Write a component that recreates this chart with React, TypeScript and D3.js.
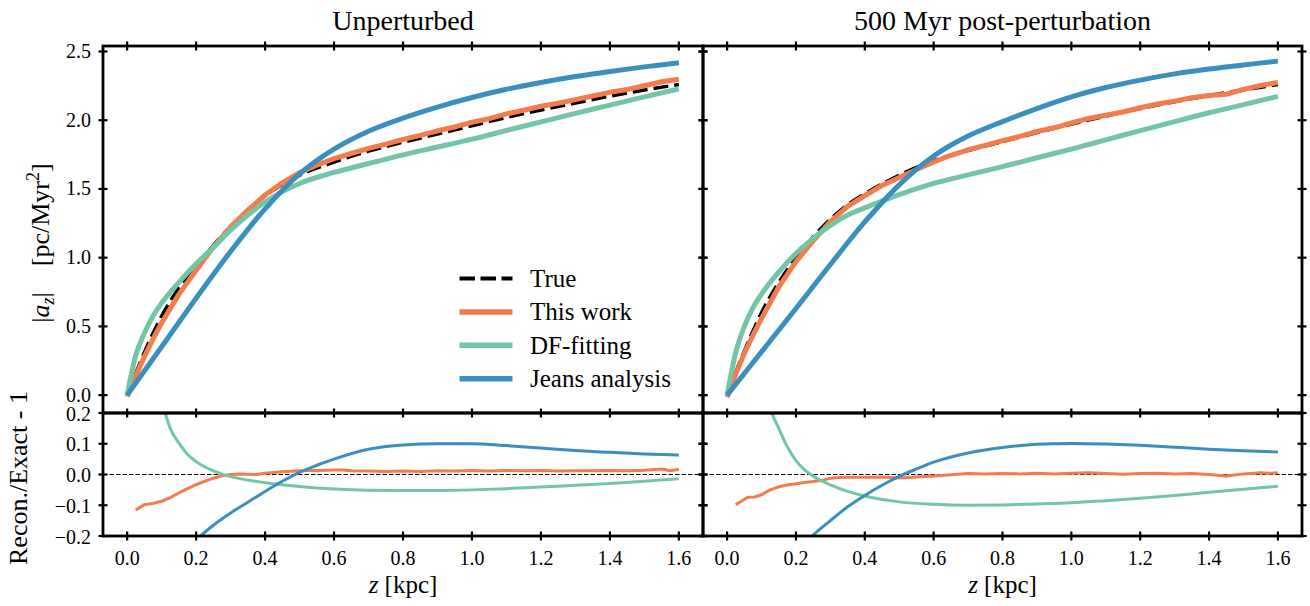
import React from 'react';
import * as d3 from 'd3';

const W = 1310;
const H = 606;
const FONT = '"Liberation Serif", "Times New Roman", serif';

const C_TRUE = '#000000';
const C_WORK = '#f47b4b';
const C_DF = '#72c6a5';
const C_JEANS = '#3b8fc0';

// Height above the midplane, kpc
const zSmooth = [0, 0.025, 0.05, 0.075, 0.1, 0.15, 0.2, 0.25, 0.3, 0.35, 0.4, 0.5, 0.6, 0.7, 0.8, 0.9, 1.0, 1.1, 1.2, 1.3, 1.4, 1.5, 1.6];
const zJeans = [0, 0.1, 0.2, 0.3, 0.4, 0.5, 0.6, 0.7, 0.8, 0.9, 1.0, 1.1, 1.2, 1.3, 1.4, 1.5, 1.6];
const zWork = [0, 0.025, 0.05, 0.075, 0.1, 0.15, 0.2, 0.25, 0.3, 0.35, 0.4, 0.45, 0.5, 0.55, 0.6, 0.65, 0.7, 0.75, 0.8, 0.85, 0.9, 0.95, 1.0, 1.05, 1.1, 1.15, 1.2, 1.25, 1.3, 1.35, 1.4, 1.45, 1.5, 1.55, 1.6];

// |a_z| [pc/Myr^2], unperturbed snapshot
const trueUnpert = [0, 0.16, 0.31, 0.45, 0.575, 0.78, 0.94, 1.09, 1.225, 1.345, 1.45, 1.6, 1.695, 1.775, 1.84, 1.9, 1.96, 2.02, 2.075, 2.125, 2.175, 2.22, 2.26];
const dfUnpert = [0, 0.29, 0.45, 0.575, 0.67, 0.82, 0.955, 1.075, 1.2, 1.31, 1.405, 1.54, 1.62, 1.685, 1.748, 1.805, 1.862, 1.925, 1.988, 2.05, 2.11, 2.17, 2.228];
const jeansUnpert = [0, 0.352, 0.705, 1.045, 1.355, 1.61, 1.79, 1.92, 2.015, 2.095, 2.165, 2.225, 2.275, 2.318, 2.355, 2.388, 2.418];
const workUnpert = [-0.01, 0.142, 0.28, 0.408, 0.525, 0.733, 0.909, 1.077, 1.225, 1.346, 1.456, 1.544, 1.619, 1.673, 1.72, 1.758, 1.795, 1.826, 1.86, 1.89, 1.923, 1.951, 1.985, 2.012, 2.046, 2.073, 2.102, 2.123, 2.15, 2.176, 2.203, 2.224, 2.251, 2.28, 2.298];

// |a_z| [pc/Myr^2], 500 Myr after the perturbation
const truePert = [0, 0.165, 0.32, 0.465, 0.6, 0.82, 1.0, 1.15, 1.28, 1.385, 1.465, 1.6, 1.705, 1.78, 1.845, 1.91, 1.972, 2.03, 2.085, 2.135, 2.18, 2.22, 2.26];
const dfPert = [0, 0.31, 0.5, 0.635, 0.735, 0.895, 1.03, 1.14, 1.235, 1.31, 1.362, 1.458, 1.54, 1.602, 1.662, 1.727, 1.79, 1.857, 1.924, 1.99, 2.054, 2.113, 2.174];
const jeansPert = [0, 0.315, 0.63, 0.95, 1.26, 1.53, 1.74, 1.885, 1.99, 2.085, 2.17, 2.238, 2.292, 2.337, 2.372, 2.402, 2.43];
const workPert = [-0.015, 0.153, 0.304, 0.436, 0.558, 0.787, 0.971, 1.122, 1.263, 1.373, 1.452, 1.525, 1.584, 1.642, 1.696, 1.745, 1.785, 1.817, 1.851, 1.882, 1.918, 1.945, 1.98, 2.013, 2.036, 2.06, 2.091, 2.118, 2.139, 2.164, 2.18, 2.189, 2.224, 2.253, 2.274];

// Relative error: reconstructed / exact - 1
const zResWorkUnpert = [0.025, 0.05, 0.075, 0.1, 0.125, 0.15, 0.175, 0.2, 0.225, 0.25, 0.275, 0.3, 0.325, 0.35, 0.375, 0.4, 0.45, 0.5, 0.55, 0.6, 0.625, 0.65, 0.7, 0.75, 0.8, 0.85, 0.9, 0.95, 1.0, 1.05, 1.1, 1.15, 1.2, 1.25, 1.3, 1.35, 1.4, 1.45, 1.5, 1.55, 1.575, 1.6];
const resWorkUnpert = [-0.115, -0.098, -0.094, -0.087, -0.075, -0.06, -0.046, -0.033, -0.022, -0.012, -0.004, 0.0, 0.002, 0.001, 0.0, 0.004, 0.009, 0.012, 0.013, 0.015, 0.015, 0.012, 0.011, 0.01, 0.011, 0.01, 0.012, 0.011, 0.013, 0.011, 0.013, 0.012, 0.013, 0.011, 0.012, 0.012, 0.013, 0.012, 0.014, 0.018, 0.012, 0.017];
const zResDfUnpert = [0.05, 0.075, 0.1, 0.125, 0.15, 0.175, 0.2, 0.25, 0.3, 0.35, 0.4, 0.5, 0.6, 0.7, 0.8, 0.9, 1.0, 1.1, 1.2, 1.3, 1.4, 1.5, 1.6];
const resDfUnpert = [0.6, 0.38, 0.245, 0.15, 0.103, 0.066, 0.042, 0.012, -0.007, -0.018, -0.027, -0.039, -0.047, -0.051, -0.052, -0.052, -0.05, -0.046, -0.041, -0.035, -0.029, -0.022, -0.014];
const zResJeansUnpert = [0.1, 0.15, 0.2, 0.25, 0.3, 0.35, 0.4, 0.45, 0.5, 0.55, 0.6, 0.7, 0.8, 0.9, 1.0, 1.1, 1.2, 1.3, 1.4, 1.5, 1.6];
const resJeansUnpert = [-0.38, -0.29, -0.215, -0.165, -0.125, -0.09, -0.055, -0.022, 0.007, 0.03, 0.05, 0.082, 0.096, 0.1, 0.1, 0.094, 0.086, 0.078, 0.072, 0.067, 0.063];

const zResWorkPert = [0.025, 0.04, 0.06, 0.08, 0.1, 0.125, 0.15, 0.175, 0.2, 0.225, 0.25, 0.275, 0.3, 0.325, 0.35, 0.4, 0.45, 0.5, 0.55, 0.6, 0.65, 0.7, 0.75, 0.8, 0.85, 0.9, 0.95, 1.0, 1.05, 1.1, 1.15, 1.2, 1.25, 1.3, 1.35, 1.4, 1.45, 1.5, 1.55, 1.575, 1.6];
const resWorkPert = [-0.098, -0.088, -0.074, -0.073, -0.066, -0.05, -0.04, -0.034, -0.03, -0.026, -0.023, -0.019, -0.012, -0.01, -0.009, -0.009, -0.008, -0.011, -0.008, -0.005, -0.001, 0.003, 0.002, 0.003, 0.002, 0.004, 0.002, 0.004, 0.006, 0.003, 0.001, 0.003, 0.004, 0.002, 0.003, 0.0, -0.005, 0.002, 0.006, 0.004, 0.006];
const zResDfPert = [0.05, 0.075, 0.1, 0.13, 0.15, 0.175, 0.2, 0.225, 0.25, 0.3, 0.35, 0.4, 0.5, 0.6, 0.7, 0.8, 0.9, 1.0, 1.1, 1.2, 1.3, 1.4, 1.5, 1.6];
const resDfPert = [0.9, 0.5, 0.31, 0.2, 0.15, 0.09, 0.045, 0.015, -0.005, -0.034, -0.055, -0.07, -0.089, -0.097, -0.1, -0.099, -0.096, -0.092, -0.085, -0.077, -0.068, -0.058, -0.048, -0.038];
const zResJeansPert = [0.15, 0.2, 0.25, 0.3, 0.35, 0.4, 0.45, 0.5, 0.55, 0.6, 0.7, 0.8, 0.9, 1.0, 1.1, 1.2, 1.3, 1.4, 1.5, 1.6];
const resJeansPert = [-0.34, -0.26, -0.197, -0.15, -0.105, -0.068, -0.035, -0.006, 0.018, 0.04, 0.07, 0.088, 0.098, 0.101, 0.099, 0.095, 0.089, 0.082, 0.077, 0.073];

// Axis ticks
const xTicks = [0, 0.2, 0.4, 0.6, 0.8, 1.0, 1.2, 1.4, 1.6];
const xTickLabels = ['0.0', '0.2', '0.4', '0.6', '0.8', '1.0', '1.2', '1.4', '1.6'];
const yTopTicks = [0, 0.5, 1.0, 1.5, 2.0, 2.5];
const yTopTickLabels = ['0.0', '0.5', '1.0', '1.5', '2.0', '2.5'];
const yBotTicks = [-0.2, -0.1, 0, 0.1, 0.2];
const yBotTickLabels = ['\u22120.2', '\u22120.1', '0.0', '0.1', '0.2'];

const legendLabels = ['True', 'This work', 'DF-fitting', 'Jeans analysis'];

const TOP = 46;
const MID = 413;
const BOT = 536;

const yTop = d3.scaleLinear().domain([-0.13, 2.54]).range([MID, TOP]);
const yBot = d3.scaleLinear().domain([-0.2, 0.2]).range([BOT, MID]);

type Pt = [number, number];
const zip = (zs: number[], vs: number[]): Pt[] => zs.map((z, i) => [z, vs[i]] as Pt);

const panels = [
  {
    key: 'u',
    title: 'Unperturbed',
    left: 103,
    right: 703,
    truth: zip(zSmooth, trueUnpert),
    work: zip(zWork, workUnpert),
    df: zip(zSmooth, dfUnpert),
    jeans: zip(zJeans, jeansUnpert),
    rWork: zip(zResWorkUnpert, resWorkUnpert),
    rDf: zip(zResDfUnpert, resDfUnpert),
    rJeans: zip(zResJeansUnpert, resJeansUnpert),
    yLabels: true,
    legend: true,
  },
  {
    key: 'p',
    title: '500 Myr post-perturbation',
    left: 703,
    right: 1302,
    truth: zip(zSmooth, truePert),
    work: zip(zWork, workPert),
    df: zip(zSmooth, dfPert),
    jeans: zip(zJeans, jeansPert),
    rWork: zip(zResWorkPert, resWorkPert),
    rDf: zip(zResDfPert, resDfPert),
    rJeans: zip(zResJeansPert, resJeansPert),
    yLabels: false,
    legend: false,
  },
];

const TICK = 4.5;
const TICK_W = 2.2;
const SPINE_W = 2.8;

export default function App() {
  return (
    <svg
      width={W}
      height={H}
      viewBox={`0 0 ${W} ${H}`}
      style={{ position: 'absolute', left: 0, top: 0, background: '#fff' }}
      fontFamily={FONT}
    >
      <rect x={0} y={0} width={W} height={H} fill="#fff" />
      {panels.map((p) => {
        const x = d3.scaleLinear().domain([-0.07, 1.67]).range([p.left, p.right]);
        const lineTop = (curve: d3.CurveFactory) =>
          d3.line<Pt>().x((d) => x(d[0])).y((d) => yTop(d[1])).curve(curve);
        const lineBot = (curve: d3.CurveFactory) =>
          d3.line<Pt>().x((d) => x(d[0])).y((d) => yBot(d[1])).curve(curve);
        const smooth = d3.curveMonotoneX;
        const cx = (p.left + p.right) / 2;
        return (
          <g key={p.key}>
            <defs>
              <clipPath id={`clip-top-${p.key}`}>
                <rect x={p.left} y={TOP} width={p.right - p.left} height={MID - TOP} />
              </clipPath>
              <clipPath id={`clip-bot-${p.key}`}>
                <rect x={p.left} y={MID} width={p.right - p.left} height={BOT - MID} />
              </clipPath>
            </defs>

            <text x={cx} y={30} textAnchor="middle" fontSize={28} fill="#000">
              {p.title}
            </text>

            {/* acceleration profiles */}
            <g clipPath={`url(#clip-top-${p.key})`} fill="none">
              <path d={lineTop(smooth)(p.truth) ?? ''} stroke={C_TRUE} strokeWidth={3.5} strokeDasharray="15 6" />
              <path d={lineTop(d3.curveLinear)(p.work) ?? ''} stroke={C_WORK} strokeWidth={5} strokeLinejoin="round" />
              <path d={lineTop(smooth)(p.df) ?? ''} stroke={C_DF} strokeWidth={5} />
              <path d={lineTop(d3.curveCatmullRom.alpha(0.5))(p.jeans) ?? ''} stroke={C_JEANS} strokeWidth={5} />
            </g>

            {/* relative errors */}
            <g clipPath={`url(#clip-bot-${p.key})`} fill="none">
              <line x1={p.left} x2={p.right} y1={yBot(0)} y2={yBot(0)} stroke="#000" strokeWidth={1.2} strokeDasharray="4.5 2" />
              <path d={lineBot(d3.curveLinear)(p.rWork) ?? ''} stroke={C_WORK} strokeWidth={3} strokeLinejoin="round" />
              <path d={lineBot(smooth)(p.rDf) ?? ''} stroke={C_DF} strokeWidth={3} />
              <path d={lineBot(smooth)(p.rJeans) ?? ''} stroke={C_JEANS} strokeWidth={3} />
            </g>

            {/* frames */}
            <rect x={p.left} y={TOP} width={p.right - p.left} height={MID - TOP} fill="none" stroke="#000" strokeWidth={SPINE_W} />
            <rect x={p.left} y={MID} width={p.right - p.left} height={BOT - MID} fill="none" stroke="#000" strokeWidth={SPINE_W} />

            {/* x ticks on every horizontal spine */}
            {[TOP, MID, BOT].map((yy) =>
              xTicks.map((t) => (
                <line key={`xt-${yy}-${t}`} x1={x(t)} x2={x(t)} y1={yy - TICK} y2={yy + TICK} stroke="#000" strokeWidth={TICK_W} />
              ))
            )}
            {/* y ticks, both sides */}
            {[p.left, p.right].map((xx) => (
              <g key={`yt-${xx}`}>
                {yTopTicks.map((t) => (
                  <line key={`a${t}`} x1={xx - TICK} x2={xx + TICK} y1={yTop(t)} y2={yTop(t)} stroke="#000" strokeWidth={TICK_W} />
                ))}
                {yBotTicks.map((t) => (
                  <line key={`b${t}`} x1={xx - TICK} x2={xx + TICK} y1={yBot(t)} y2={yBot(t)} stroke="#000" strokeWidth={TICK_W} />
                ))}
              </g>
            ))}

            {/* x tick labels */}
            {xTicks.map((t, i) => (
              <text key={`xl-${t}`} x={x(t)} y={565} textAnchor="middle" fontSize={20} fill="#000">
                {xTickLabels[i]}
              </text>
            ))}

            {/* y tick labels */}
            {p.yLabels &&
              yTopTicks.map((t, i) => (
                <text key={`yl-${t}`} x={91} y={yTop(t) + 6.5} textAnchor="end" fontSize={20} fill="#000">
                  {yTopTickLabels[i]}
                </text>
              ))}
            {p.yLabels &&
              yBotTicks.map((t, i) => (
                <text key={`ylb-${t}`} x={91} y={yBot(t) + 7.5} textAnchor="end" fontSize={20} fill="#000">
                  {yBotTickLabels[i]}
                </text>
              ))}

            {/* x axis label */}
            <text x={cx} y={593} textAnchor="middle" fontSize={25} fill="#000">
              <tspan fontStyle="italic">z</tspan>
              <tspan> [kpc]</tspan>
            </text>

            {p.legend && (
              <g>
                {legendLabels.map((lab, i) => {
                  const ly = 278.5 + i * 33.4;
                  const color = [C_TRUE, C_WORK, C_DF, C_JEANS][i];
                  return (
                    <g key={lab}>
                      <line
                        x1={459.5}
                        x2={512.5}
                        y1={ly}
                        y2={ly}
                        stroke={color}
                        strokeWidth={i === 0 ? 3.8 : 5.5}
                        strokeDasharray={i === 0 ? '15.5 5.5' : undefined}
                      />
                      <text x={530} y={ly + 8.4} fontSize={25} fill="#000">
                        {lab}
                      </text>
                    </g>
                  );
                })}
              </g>
            )}
          </g>
        );
      })}

      {/* y axis labels */}
      <text transform="translate(49,243) rotate(-90)" textAnchor="middle" fontSize={26} fill="#000">
        <tspan>|</tspan>
        <tspan fontStyle="italic">a</tspan>
        <tspan fontStyle="italic" fontSize={18} dy={5}>z</tspan>
        <tspan dy={-5}>|{'\u2003'}[pc/Myr</tspan>
        <tspan fontSize={18} dy={-10}>2</tspan>
        <tspan dy={10}>]</tspan>
      </text>
      <text transform="translate(27,478) rotate(-90)" textAnchor="middle" fontSize={26} fill="#000">
        Recon./Exact - 1
      </text>
    </svg>
  );
}
